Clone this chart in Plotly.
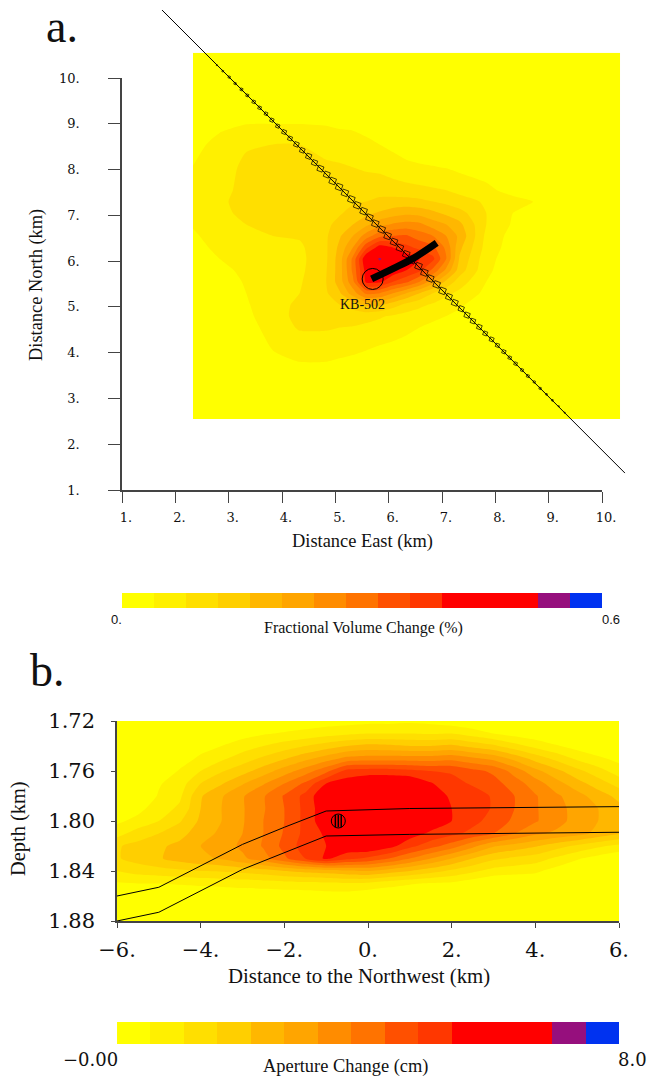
import numpy as np
import plotly.graph_objects as go

W, H = 647, 1076

# ---------- colour levels (15 equal steps, the three reds share one colour) ----------
LEVEL_COLORS = ["#ffff00", "#fff000", "#ffdf00", "#ffcf00", "#ffb700", "#ffa500", "#ff8c00", "#ff7300",
                "#ff5000", "#ff3700", "#ff0000", "#ff0000", "#ff0000", "#960f7d", "#0032f0"]

# ---------- panel a: fractional volume change, read in hundredths of a percent ----------
MAP_EAST_KM = [2.33, 2.83, 3.33, 3.83, 4.33, 4.83, 5.08, 5.33, 5.58, 5.83, 6.08, 6.33, 6.58, 6.83, 7.08, 7.33,
               7.83, 8.33, 8.83, 9.33, 9.83, 10.34]
MAP_NORTH_KM = [2.55, 3.05, 3.55, 4.05, 4.55, 4.8, 5.05, 5.3, 5.55, 5.8, 6.05, 6.3, 6.55, 6.8, 7.05, 7.3, 7.55,
                8.05, 8.55, 9.05, 9.55, 10.05, 10.55]
VOLUME_CHANGE = [
    [0, 0, 0, 0, 0, 0, 0, 0, 0, 0, 0, 0, 0, 0, 0, 0, 0, 0, 0, 0, 0, 0],
    [0, 0, 0, .5, 1, 1, .8, .5, .3, 0, 0, 0, 0, 0, 0, 0, 0, 0, 0, 0, 0, 0],
    [0, 0, .5, 2, 3, 3, 2.5, 2, 1.5, 1, .7, .5, .3, 0, 0, 0, 0, 0, 0, 0, 0, 0],
    [0, .3, 1.5, 4, 5, 5, 4.8, 4.5, 4, 3.3, 3, 2.5, 2, 1.5, 1, .8, 0, 0, 0, 0, 0, 0],
    [0, .8, 2.5, 5.5, 8.5, 8.5, 8, 7.8, 7, 6.5, 5.5, 4.8, 4, 3, 2.5, 2, .5, 0, 0, 0, 0, 0],
    [.2, 1, 3, 6.5, 9, 9.5, 9.5, 9.5, 9.5, 8.5, 7.5, 6.5, 5.8, 5, 4, 3.2, 1, 0, 0, 0, 0, 0],
    [.3, 1.5, 3.5, 7, 8.5, 10.5, 12, 14, 17, 17, 14, 11, 9, 7.5, 6, 4.5, 2, 0, 0, 0, 0, 0],
    [.5, 2, 4, 6.5, 8, 11.5, 15.5, 22, 29, 28, 24, 20, 16, 12, 9, 7, 3, .3, 0, 0, 0, 0],
    [1, 2.5, 4.3, 6, 7.5, 12, 18, 27, 41, 41, 36, 33, 28, 22, 15, 10, 4, .5, 0, 0, 0, 0],
    [1.5, 3.2, 4.7, 5.8, 7, 11.8, 18, 29, 42, 46, 43, 40, 37, 31, 23, 14, 5, 1, 0, 0, 0, 0],
    [2, 4, 5, 6, 6.8, 11.5, 18, 29, 44, 53, 46, 43, 40, 37, 28, 15.5, 5.5, 1.5, 0, 0, 0, 0],
    [3, 4.7, 6, 6.8, 7.2, 11.5, 17, 24, 35, 42, 40, 37, 35, 33, 27, 17, 6.5, 2, 0, 0, 0, 0],
    [3.5, 5.5, 7, 8, 8.5, 11.5, 15.5, 20, 26, 31, 32, 32.5, 30, 28, 24, 19, 7, 2.5, .5, 0, 0, 0],
    [4.3, 6.5, 8, 8.7, 9, 11, 13.5, 16, 19, 22.5, 24.5, 25.5, 25, 22, 20, 17, 8, 3.5, 1, 0, 0, 0],
    [5.5, 7.5, 8.5, 9, 9, 10, 11.5, 13.5, 15, 16.5, 18, 19, 18.5, 17, 15, 13.5, 8, 4, 2, 0, 0, 0],
    [5.5, 7.5, 9, 9, 9, 9.5, 10.5, 11.5, 12, 13, 13.5, 13.5, 13, 12, 11, 9.5, 7.5, 5.5, 3.5, .5, 0, 0],
    [5, 7, 9, 9, 9, 9, 9, 9, 10, 10.5, 10, 9.5, 9, 8.5, 8, 7, 5, 2.5, 0, 0, 0, 0],
    [4.1, 6, 9, 9, 9, 8.5, 8.5, 8, 7.5, 7, 6, 5, 4.5, 4.2, 3.8, 3, 2, 1, 0, 0, 0, 0],
    [2.5, 5.5, 7.5, 8, 8, 7, 6, 5.5, 4.5, 4, 3, 2, 1.5, 1, .5, 0, 0, 0, 0, 0, 0, 0],
    [.5, 2.5, 3.5, 3.5, 3.5, 3.3, 3, 3, 3, 2.5, 1.5, 1, .5, 0, 0, 0, 0, 0, 0, 0, 0, 0],
    [0, 0, .5, .5, .5, .5, .5, .5, .5, .3, 0, 0, 0, 0, 0, 0, 0, 0, 0, 0, 0, 0],
    [0, 0, 0, 0, 0, 0, 0, 0, 0, 0, 0, 0, 0, 0, 0, 0, 0, 0, 0, 0, 0, 0],
    [0, 0, 0, 0, 0, 0, 0, 0, 0, 0, 0, 0, 0, 0, 0, 0, 0, 0, 0, 0, 0, 0],
]

# profile line, its stations and their marker sizes
PROFILE_EAST = [1.75, 10.43]
PROFILE_NORTH = [11.485, 1.37]
STATION_EAST = [2.78, 2.89, 3.01, 3.12, 3.24, 3.35, 3.47, 3.58, 3.70, 3.81, 3.92, 4.04, 4.15, 4.27, 4.38, 4.50,
                4.61, 4.72, 4.84, 4.95, 5.07, 5.18, 5.30, 5.41, 5.53, 5.64, 5.75, 5.87, 5.98, 6.10, 6.21, 6.33,
                6.44, 6.56, 6.67, 6.78, 6.90, 7.01, 7.13, 7.24, 7.36, 7.47, 7.58, 7.70, 7.81, 7.93, 8.04, 8.16,
                8.27, 8.38, 8.50, 8.61, 8.73, 8.84, 8.96, 9.07, 9.19, 9.30]
STATION_NORTH = [10.28, 10.15, 10.02, 9.88, 9.75, 9.62, 9.48, 9.35, 9.22, 9.08, 8.95, 8.82, 8.68, 8.55, 8.42, 8.29,
                 8.15, 8.02, 7.89, 7.75, 7.62, 7.49, 7.35, 7.22, 7.09, 6.95, 6.82, 6.69, 6.55, 6.42, 6.29, 6.15,
                 6.02, 5.89, 5.75, 5.62, 5.49, 5.35, 5.22, 5.09, 4.96, 4.82, 4.69, 4.56, 4.42, 4.29, 4.16, 4.02,
                 3.89, 3.76, 3.62, 3.49, 3.36, 3.22, 3.09, 2.96, 2.83, 2.69]
STATION_SIZE = [1, 1.5, 2, 2, 2.5, 2.5, 3, 3, 3, 3.5, 3.5, 4, 4, 4.5, 4.5, 5, 5, 5.5, 5.5, 6, 6, 6, 6, 6, 6, 6, 6,
                6, 6, 6, 6, 6, 6, 6, 6, 6, 6, 6, 5.5, 5.5, 5, 5, 4.5, 4.5, 4, 4, 3.5, 3.5, 3, 3, 2.5, 2.5, 2, 2,
                1.5, 1.5, 1, 1]

WELL_TRACK_EAST = [5.68, 6.09, 6.46, 6.90]
WELL_TRACK_NORTH = [5.61, 5.84, 6.06, 6.40]
WELL_NAME = "KB-502"
WELL_EAST = 5.70
WELL_NORTH = 5.61

# ---------- panel b: aperture change, read as colour level per column (one level = 8/15 cm) ----------
SECTION_DEPTH_KM = [1.72, 1.73, 1.74, 1.75, 1.76, 1.77, 1.78, 1.79, 1.80, 1.81, 1.82, 1.83, 1.84, 1.85, 1.86, 1.87, 1.88]
SECTION_DIST_KM = [-6, -5.5, -5, -4.5, -4, -3.5, -3, -2.5, -2, -1.5, -1, -.5, 0, .5, 1, 1.5, 2, 2.5, 3, 3.5, 4, 4.5, 5, 5.5, 6]
APERTURE_LEVEL_BY_COLUMN = [
    [0, 0, 0, 0, 0, 0, 0, .3, .8, 1.6, 2.9, 2.9, 2, .9, 0, 0, 0],
    [0, 0, 0, 0, 0, 0, .1, .7, 1.3, 2.5, 3.3, 3.4, 2.4, 1, 0, 0, 0],
    [0, 0, 0, 0, .2, .9, 1.1, 1.5, 2, 3, 3.8, 3.9, 2.6, 1, 0, 0, 0],
    [0, 0, 0, .5, 1.1, 1.5, 1.8, 2.2, 2.9, 3.6, 4.3, 4.4, 2.8, 1.1, .1, 0, 0],
    [0, .1, .6, 1.2, 2, 3, 3.9, 4, 4.2, 4.6, 5, 4.8, 3, 1.2, .2, 0, 0],
    [0, .3, 1, 1.8, 2.9, 3.9, 4.9, 5, 5, 5.2, 5.5, 5.1, 3.1, 1.3, .2, 0, 0],
    [.1, .6, 1.5, 2.5, 3.6, 4.9, 5.9, 5.9, 5.9, 6, 6.2, 5.8, 3.3, 1.4, .3, 0, 0],
    [.2, .9, 2, 3.2, 4.5, 5.9, 6.9, 6.9, 7, 7, 7.1, 6.6, 3.6, 1.5, .3, 0, 0],
    [.3, 1.1, 2.5, 3.9, 5.5, 7, 8.1, 8, 8, 8.1, 8.3, 7.8, 4, 1.6, .4, 0, 0],
    [.4, 1.3, 3, 4.7, 6.5, 8.2, 9.3, 9.3, 9.3, 9.3, 9.5, 9, 4.3, 1.7, .4, 0, 0],
    [.5, 1.6, 3.5, 5.5, 7.7, 10, 11, 10.8, 10.8, 10.2, 10, 10.2, 4.5, 1.8, .5, 0, 0],
    [.6, 1.8, 4, 6.3, 9.4, 10.5, 11.5, 12, 11.8, 11.5, 10.8, 9.3, 4.8, 1.9, .5, 0, 0],
    [.7, 2, 4.3, 6.5, 9.5, 11, 12.2, 12.5, 12.3, 12, 11, 8.8, 5, 1.8, .2, 0, 0],
    [.7, 2, 4.2, 6.5, 9.5, 11, 12, 12.3, 12, 11.5, 10.4, 8, 4.5, 1.4, .1, 0, 0],
    [.8, 2, 4, 6.5, 9.3, 11, 11.5, 11.5, 11.5, 10.5, 9.3, 7, 4, 1.1, 0, 0, 0],
    [.7, 1.9, 4, 6.5, 9, 10.1, 10.7, 11, 10.7, 9.8, 8.4, 6, 3.4, .9, 0, 0, 0],
    [.4, 2, 4.2, 6.7, 8.9, 9.3, 9.8, 10, 10, 9.3, 7.5, 5, 2.8, .8, 0, 0, 0],
    [.2, 1.5, 3.7, 6.2, 8.3, 8.9, 9.4, 9.5, 9.3, 8.7, 6.3, 4, 2.2, .4, 0, 0, 0],
    [0, 1, 3.2, 5.7, 7.8, 8.4, 8.9, 8.9, 8.6, 8, 5.1, 3.2, 1.6, 0, 0, 0, 0],
    [0, .6, 2.4, 4.7, 6.6, 7.5, 8, 8, 7.8, 7, 4.6, 2.8, 1.4, 0, 0, 0, 0],
    [0, .3, 1.7, 3.6, 5.3, 6.5, 7.1, 7.1, 7.1, 6.2, 4.1, 2.5, 1.2, .1, 0, 0, 0],
    [0, 0, 1.1, 2.7, 4.3, 5.4, 6.2, 6.4, 6.4, 5.8, 3.4, 1.8, .6, 0, 0, 0, 0],
    [0, 0, .6, 1.8, 3.3, 4.4, 5.4, 5.6, 5.6, 5.4, 2.8, 1.1, .2, 0, 0, 0, 0],
    [0, 0, .2, 1.2, 2.4, 3.5, 4.5, 5, 5, 4.7, 2.2, .6, 0, 0, 0, 0, 0],
    [0, 0, 0, .7, 1.5, 2.6, 3.7, 4.3, 4.3, 4.1, 1.7, .2, 0, 0, 0, 0, 0],
]
TOP_HORIZON_DIST = [-6, -5, -3, -2, -1, 1, 6]
TOP_HORIZON_DEPTH = [1.86, 1.853, 1.8187, 1.805, 1.792, 1.790, 1.7885]
BASE_HORIZON_DIST = [-6, -5, -3, -2, -1, 1, 6]
BASE_HORIZON_DEPTH = [1.88, 1.873, 1.8387, 1.8253, 1.812, 1.8107, 1.809]
SECTION_WELL_DIST = [-0.71]
SECTION_WELL_DEPTH = [1.80]
SECTION_WELL_LINES_DIST = [-0.78, -0.71, -0.64]
SECTION_WELL_LINES_DEPTH = [1.80, 1.80, 1.80]

# ---------- tick labels ----------
A_TICKS = [1, 2, 3, 4, 5, 6, 7, 8, 9, 10]
A_TICK_TEXT = ["1.", "2.", "3.", "4.", "5.", "6.", "7.", "8.", "9.", "10."]
B_X_TICKS = [-6, -4, -2, 0, 2, 4, 6]
B_X_TICK_TEXT = ["\u22126.", "\u22124.", "\u22122.", "0.", "2.", "4.", "6."]
B_Y_TICKS = [1.72, 1.76, 1.80, 1.84, 1.88]
B_Y_TICK_TEXT = ["1.72", "1.76", "1.80", "1.84", "1.88"]
VOLUME_BAR_MIDS = [.02, .06, .10, .14, .18, .22, .26, .30, .34, .38, .42, .46, .50, .54, .58]
APERTURE_BAR_MIDS = [0.267, 0.8, 1.333, 1.867, 2.4, 2.933, 3.467, 4.0, 4.533, 5.067, 5.6, 6.133, 6.667, 7.2, 7.733]

# ---------- helpers ----------
def fx(p):
    return p / W

def fy(p):
    return 1 - p / H

n = len(LEVEL_COLORS)
SCALE = [[i / (n - 1), c] for i, c in enumerate(LEVEL_COLORS)]

INK = "#111111"
AXC = "#444444"
SERIF = "Liberation Serif"
TICKF = "DejaVu Serif"

fig = go.Figure()

fig.add_trace(go.Contour(
    x=MAP_EAST_KM, y=MAP_NORTH_KM, z=np.array(VOLUME_CHANGE) / 100,
    xaxis="x", yaxis="y", showscale=False, autocontour=False, colorscale=SCALE,
    contours=dict(start=.04, end=.56, size=.04, coloring="fill", showlines=False),
    line=dict(width=0, smoothing=0.6), hoverinfo="skip"))
fig.add_trace(go.Scatter(x=PROFILE_EAST, y=PROFILE_NORTH, xaxis="x", yaxis="y", mode="lines",
                         line=dict(color="black", width=1), hoverinfo="skip"))
fig.add_trace(go.Scatter(x=STATION_EAST, y=STATION_NORTH, xaxis="x", yaxis="y", mode="markers",
                         marker=dict(symbol="square-open", size=STATION_SIZE, angle=20, color="black",
                                     line=dict(width=1)),
                         hoverinfo="skip"))

fig.add_trace(go.Scatter(x=WELL_TRACK_EAST, y=WELL_TRACK_NORTH, xaxis="x2", yaxis="y2", mode="lines",
                         line=dict(color="black", width=7, shape="spline"), hoverinfo="skip"))
fig.add_trace(go.Scatter(x=[WELL_EAST], y=[WELL_NORTH], xaxis="x2", yaxis="y2", mode="markers",
                         marker=dict(symbol="circle-open", size=21, color="black", line=dict(width=1)),
                         hoverinfo="skip"))

fig.add_trace(go.Contour(
    x=SECTION_DIST_KM, y=SECTION_DEPTH_KM, z=np.array(APERTURE_LEVEL_BY_COLUMN).T * 8 / 15,
    xaxis="x3", yaxis="y3", showscale=False, autocontour=False, colorscale=SCALE,
    contours=dict(start=8 / 15, end=8 * 14 / 15 - 1e-9, size=8 / 15, coloring="fill", showlines=False),
    line=dict(width=0, smoothing=0.6), hoverinfo="skip"))
for xs, ys in [(TOP_HORIZON_DIST, TOP_HORIZON_DEPTH), (BASE_HORIZON_DIST, BASE_HORIZON_DEPTH)]:
    fig.add_trace(go.Scatter(x=xs, y=ys, xaxis="x3", yaxis="y3", mode="lines",
                             line=dict(color="black", width=1), hoverinfo="skip"))
fig.add_trace(go.Scatter(x=SECTION_WELL_DIST, y=SECTION_WELL_DEPTH, xaxis="x3", yaxis="y3", mode="markers",
                         marker=dict(symbol="circle-open", size=14, color="black", line=dict(width=1)), hoverinfo="skip"))
fig.add_trace(go.Scatter(x=SECTION_WELL_LINES_DIST, y=SECTION_WELL_LINES_DEPTH, xaxis="x3", yaxis="y3", mode="markers",
                         marker=dict(symbol="line-ns-open", size=9, color="black", line=dict(width=1.5)), hoverinfo="skip"))

fig.add_trace(go.Heatmap(x=VOLUME_BAR_MIDS, y=[0], z=[VOLUME_BAR_MIDS], xaxis="x4", yaxis="y4", colorscale=SCALE,
                         zmin=.02, zmax=.58, showscale=False, hoverinfo="skip"))
fig.add_trace(go.Heatmap(x=APERTURE_BAR_MIDS, y=[0], z=[APERTURE_BAR_MIDS], xaxis="x5", yaxis="y5", colorscale=SCALE,
                         zmin=0.267, zmax=7.733, showscale=False, hoverinfo="skip"))

hidden = dict(visible=False, fixedrange=True)
layout = dict(
    width=W, height=H, margin=dict(l=0, r=0, t=0, b=0, autoexpand=False), paper_bgcolor="white",
    plot_bgcolor="rgba(0,0,0,0)", showlegend=False,
    xaxis=dict(hidden, domain=[fx(122), fx(647)], range=[1, 1 + 525 / (480 / 9)], anchor="y"),
    yaxis=dict(hidden, domain=[fy(490), fy(0)], range=[1, 1 + 490 / (412 / 9)], anchor="x"),
    xaxis2=dict(domain=[fx(122), fx(602)], range=[1, 10], anchor="y2", tickmode="array", tickvals=A_TICKS,
                ticktext=A_TICK_TEXT, ticks="outside", ticklen=11, tickcolor=AXC, showline=True, linecolor=AXC,
                linewidth=1.5, showgrid=False, zeroline=False, ticklabelstandoff=4, ticklabelshift=4,
                automargin=False, tickfont=dict(family=TICKF, size=13, color=INK)),
    yaxis2=dict(domain=[fy(490), fy(78)], range=[1, 10], anchor="x2", tickmode="array", tickvals=A_TICKS,
                ticktext=A_TICK_TEXT, ticks="outside", ticklen=12, tickcolor=AXC, showline=True, linecolor=AXC,
                linewidth=1.5, showgrid=False, zeroline=False, ticklabelstandoff=26,
                automargin=False, tickfont=dict(family=TICKF, size=13, color=INK)),
    xaxis3=dict(domain=[fx(117), fx(619)], range=[-6, 6], anchor="y3", tickmode="array", tickvals=B_X_TICKS,
                ticktext=B_X_TICK_TEXT, ticks="outside", ticklen=5, tickcolor=AXC, showline=True, linecolor=AXC,
                linewidth=1.5, showgrid=False, zeroline=False, ticklabelstandoff=4,
                automargin=False, tickfont=dict(family=TICKF, size=21, color=INK)),
    yaxis3=dict(domain=[fy(921), fy(721)], range=[1.88, 1.72], anchor="x3", tickmode="array", tickvals=B_Y_TICKS,
                ticktext=B_Y_TICK_TEXT, ticks="outside", ticklen=4, tickcolor=AXC, showline=True, linecolor=AXC,
                linewidth=1.5, showgrid=False, zeroline=False, ticklabelstandoff=12,
                automargin=False, tickfont=dict(family=TICKF, size=21, color=INK)),
    xaxis4=dict(hidden, domain=[fx(122), fx(602)], range=[0, .6], anchor="y4"),
    yaxis4=dict(hidden, domain=[fy(608), fy(593)], range=[-.5, .5], anchor="x4"),
    xaxis5=dict(hidden, domain=[fx(117), fx(619)], range=[0, 8], anchor="y5"),
    yaxis5=dict(hidden, domain=[fy(1044), fy(1022)], range=[-.5, .5], anchor="x5"),
)

def note(text, x, y, size, family=SERIF, angle=0):
    return dict(text=text, xref="paper", yref="paper", x=fx(x), y=fy(y), xanchor="center", yanchor="middle",
                showarrow=False, textangle=angle, font=dict(family=family, size=size, color=INK))

layout["annotations"] = [
    note("a.", 62, 26, 46),
    note("b.", 47, 670, 46),
    note(WELL_NAME, 362, 304, 14),
    note("Distance East (km)", 362, 541, 18.4),
    note("Distance North (km)", 36, 285, 18.4, angle=-90),
    note("Distance to the Northwest (km)", 359, 976, 20.8),
    note("Depth (km)", 18, 829, 20.4, angle=-90),
    note("0.", 116, 619, 13, "Liberation Sans"),
    note("0.6", 611, 619, 13, "Liberation Sans"),
    note("Fractional Volume Change (%)", 363, 628, 16),
    note("\u22120.00", 91, 1059, 18, TICKF),
    note("8.0", 632, 1059, 18, TICKF),
    note("Aperture Change (cm)", 345, 1066, 18.4),
]
fig.update_layout(**layout)
fig.write_html("out.html", config=dict(displayModeBar=False),
               post_script="document.body.style.margin='0';")
